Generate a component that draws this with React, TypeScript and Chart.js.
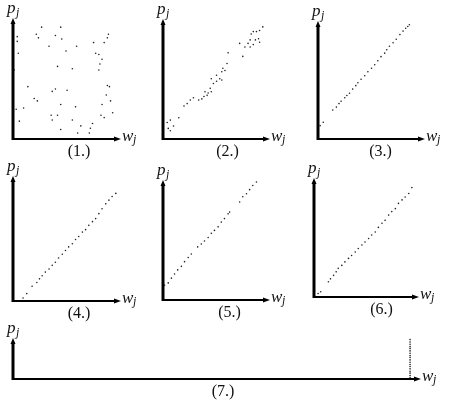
import React, { useEffect, useRef } from "react";
import { Chart, registerables } from "chart.js";

Chart.register(...registerables);

// ---- data (w = weight, p = profit) ----
const p1W = [27, 45, 22, 24, 40, 46, 4, 4, 90, 89, 76, 86, 34, 60, 5, 50, 78, 81, 84, 82, 81, 42, 56, 1, 14, 37, 40, 51, 89, 91, 88, 92, 20, 23, 45, 59, 84, 3, 10, 36, 42, 83, 86, 94, 6, 37, 56, 75, 45, 73, 61, 72, 64];
const p1P = [94, 94, 88, 85, 87, 84, 86, 82, 88, 85, 81, 81, 78, 78, 72, 74, 72, 71, 67, 63, 58, 61, 59, 58, 44, 40, 42, 41, 45, 44, 37, 32, 34, 32, 29, 27, 29, 25, 26, 20, 20, 20, 18, 22, 15, 16, 16, 13, 8, 9, 5, 5, 11];

const p2W = [5, 7, 10, 4, 7, 15, 20, 23, 26, 29, 34, 37, 39, 40, 43, 45, 42, 46, 48, 51, 54, 56, 46, 51, 56, 57, 61, 62, 59, 73, 76, 78, 81, 83, 84, 86, 88, 91, 89, 92, 95, 83, 86, 92];
const p2P = [9, 7, 11, 14, 16, 18, 28, 30, 33, 35, 33, 34, 36, 40, 39, 43, 37, 40, 47, 49, 51, 50, 51, 54, 57, 60, 64, 73, 58, 81, 70, 78, 81, 84, 89, 91, 84, 85, 91, 92, 95, 78, 80, 82];

const p3W = [2, 5, 14, 17.5, 20, 22, 25.5, 27.5, 30, 33, 36, 38, 41, 44.5, 47.5, 51, 54, 57, 60, 63.5, 65.5, 68, 71.5, 74.5, 78, 81, 83.5, 85.5, 87, 92];
const p3P = [11.5, 14.5, 25, 27.5, 30.5, 32.5, 35.5, 37.5, 39.5, 43, 46, 48.5, 51.5, 54.5, 58, 61, 64, 67.5, 71, 74, 77, 80, 83, 86, 90, 93, 95.5, 97, 98.5, 107];

const p4W = [9.5, 13, 18, 22.5, 25, 27.5, 30.5, 34, 37, 40, 43, 46.5, 49.5, 52.5, 56, 59, 62, 65.5, 68.5, 71.5, 75, 78, 81, 84, 87.5, 90.5, 93.5, 97, 102];
const p4P = [2.5, 6, 12, 15, 18, 20.5, 23.5, 26, 29, 31.5, 35, 38, 41, 44, 46.5, 50, 52.5, 56, 58, 61.5, 64.5, 67, 71, 75, 79, 82, 85, 87.5, 93];

const p5W = [1.5, 5, 8, 11, 14, 17.5, 20.5, 24, 27, 33, 36.5, 39.5, 43, 46, 49, 52.5, 55.5, 58.5, 62, 63.5, 73, 76, 79.5, 82.5, 85.5, 89, 92, 95];
const p5P = [12.5, 14.5, 18.5, 22, 25.5, 28.5, 32.5, 36, 39, 45, 47.5, 50, 53, 56.5, 59, 62, 66, 69, 73, 74.5, 83, 87.5, 90, 93.5, 97, 100, 103, 105.5];

const p6W = [4, 6.5, 14, 16, 19, 21.5, 23.5, 27, 30, 33.5, 36.5, 40, 43, 46.5, 49.5, 53, 56, 59.5, 62.5, 66, 69, 72.5, 75.5, 79, 82, 85.5, 88.5, 92, 95];
const p6P = [3, 4.5, 13, 15.5, 18.5, 21.5, 24.5, 27, 30, 33, 35.5, 38.5, 41.5, 44.5, 47, 50, 53, 55.5, 59.5, 63, 65.5, 70, 73, 75.5, 80, 83, 85.5, 88.5, 93.5];

const p7W = [97.8, 97.8, 97.8, 97.8, 97.8, 97.8, 97.8, 97.8, 97.8, 97.8, 97.8, 97.8, 97.8, 97.8, 97.8, 97.8, 97.8, 97.8, 97.8, 97.8, 97.8, 97.8];
const p7P = [4, 9, 15, 20, 26, 32, 37, 43, 49, 55, 60, 66, 72, 78, 83, 89, 95, 101, 106, 112, 118, 123];

const captions = ["(1.)", "(2.)", "(3.)", "(4.)", "(5.)", "(6.)", "(7.)"];
const xLabel = "w";
const yLabel = "p";
const subLabel = "j";

// ---- layout (page pixels of each panel's axes) ----
const PAD_L = 12;
const PAD_T = 22;
const PAD_R = 26;
const PAD_B = 26;

const PANELS = [
  { w: p1W, p: p1P, cap: captions[0], ox: 13, oy: 139, xe: 119, yt: 20, capDx: 13 },
  { w: p2W, p: p2P, cap: captions[1], ox: 163, oy: 139, xe: 268, yt: 21, capDx: 12 },
  { w: p3W, p: p3P, cap: captions[2], ox: 318, oy: 139, xe: 423, yt: 23, capDx: 10 },
  { w: p4W, p: p4P, cap: captions[3], ox: 13, oy: 301, xe: 119, yt: 178, capDx: 13 },
  { w: p5W, p: p5P, cap: captions[4], ox: 163, oy: 300, xe: 268, yt: 182, capDx: 14 },
  { w: p6W, p: p6P, cap: captions[5], ox: 314, oy: 297, xe: 417, yt: 180, capDx: 16 },
  { w: p7W, p: p7P, cap: captions[6], ox: 13, oy: 379, xe: 419, yt: 340, capDx: 7 },
];

const axesPlugin = {
  id: "arrowAxes",
  afterDraw(chart: any, _args: any, opts: any) {
    const { ctx, chartArea: a } = chart;
    ctx.save();
    ctx.strokeStyle = "#000";
    ctx.fillStyle = "#000";
    // x axis with arrow
    ctx.lineWidth = 2;
    ctx.beginPath();
    ctx.moveTo(a.left - 1, a.bottom);
    ctx.lineTo(a.right - 3, a.bottom);
    ctx.stroke();
    ctx.beginPath();
    ctx.moveTo(a.right + 2, a.bottom);
    ctx.lineTo(a.right - 5, a.bottom - 2.5);
    ctx.lineTo(a.right - 5, a.bottom + 2.5);
    ctx.closePath();
    ctx.fill();
    // y axis with arrow
    ctx.lineWidth = 3;
    ctx.beginPath();
    ctx.moveTo(a.left, a.bottom + 1);
    ctx.lineTo(a.left, a.top + 3);
    ctx.stroke();
    ctx.beginPath();
    ctx.moveTo(a.left, a.top - 2);
    ctx.lineTo(a.left - 2.5, a.top + 4);
    ctx.lineTo(a.left + 2.5, a.top + 4);
    ctx.closePath();
    ctx.fill();
    // labels
    ctx.fillStyle = "#111";
    ctx.textAlign = "left";
    ctx.textBaseline = "alphabetic";
    ctx.font = 'italic 17px "Liberation Serif", serif';
    ctx.fillText(yLabel, a.left - 6, a.top - 7);
    ctx.fillText(xLabel, a.right + 3, a.bottom + 2);
    ctx.font = 'italic 12px "Liberation Serif", serif';
    ctx.fillText(subLabel, a.left + 3, a.top - 4);
    ctx.fillText(subLabel, a.right + 14, a.bottom + 4);
    // caption
    ctx.font = '16px "Liberation Serif", serif';
    ctx.textAlign = "center";
    ctx.textBaseline = "middle";
    ctx.fillText(opts.caption, (a.left + a.right) / 2 + opts.capDx, a.bottom + 13);
    ctx.restore();
  },
};

function Panel({ cfg }: { cfg: any }) {
  const ref = useRef<HTMLCanvasElement>(null);
  useEffect(() => {
    const chart = new Chart(ref.current as HTMLCanvasElement, {
      type: "scatter",
      data: {
        datasets: [
          {
            data: cfg.w.map((x: number, i: number) => ({ x, y: cfg.p[i] })),
            pointRadius: 0.8,
            pointHoverRadius: 0.8,
            backgroundColor: "#222",
            borderWidth: 0,
            clip: false,
          } as any,
        ],
      },
      options: {
        animation: false,
        responsive: true,
        maintainAspectRatio: false,
        events: [],
        layout: { padding: { left: PAD_L, top: PAD_T, right: PAD_R, bottom: PAD_B } },
        scales: {
          x: { type: "linear", display: false, min: 0, max: 100 },
          y: { type: "linear", display: false, min: 0, max: 100 },
        },
        plugins: {
          legend: { display: false },
          tooltip: { enabled: false },
          arrowAxes: { caption: cfg.cap, capDx: cfg.capDx },
        } as any,
      },
      plugins: [axesPlugin],
    });
    return () => chart.destroy();
  }, []);
  return (
    <div
      style={{
        position: "absolute",
        left: cfg.ox - PAD_L,
        top: cfg.yt - PAD_T,
        width: cfg.xe - cfg.ox + PAD_L + PAD_R,
        height: cfg.oy - cfg.yt + PAD_T + PAD_B,
      }}
    >
      <canvas ref={ref} />
    </div>
  );
}

export default function App() {
  return (
    <div
      style={{
        position: "absolute",
        left: 0,
        top: 0,
        width: 455,
        height: 407,
        background: "#fff",
        overflow: "hidden",
      }}
    >
      {PANELS.map((cfg, i) => (
        <Panel key={i} cfg={cfg} />
      ))}
    </div>
  );
}
